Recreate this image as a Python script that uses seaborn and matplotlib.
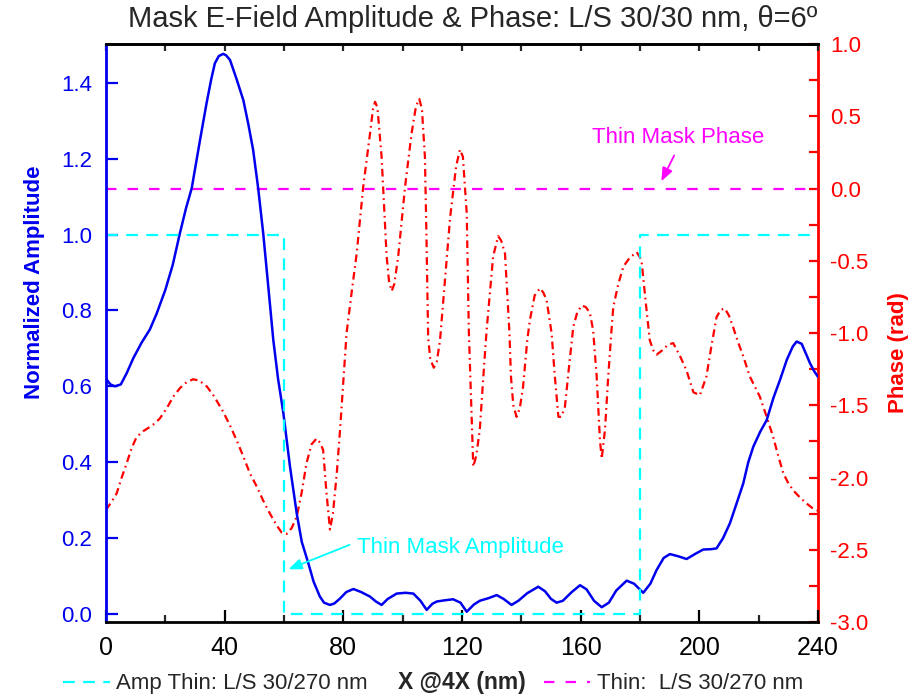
import matplotlib
matplotlib.use("Agg")
import matplotlib.pyplot as plt
from matplotlib import font_manager
from matplotlib.lines import Line2D
from matplotlib.ticker import MultipleLocator
import seaborn as sns
import pandas as pd

# ---- data -------------------------------------------------------------
amp_x = [0, 1.5, 3, 5, 7, 9.2, 12, 14.8, 17.1, 20, 22.5, 24.9, 27, 28.9, 31.7, 33.9,
         35.5, 36.7, 38, 39.5, 40.5, 41.8, 44, 46.3, 48, 49.6, 51.3, 53.0, 54.5, 56.4,
         58, 59.8, 62, 64.3, 66, 68.2, 70, 72.1, 73.5, 75.5, 77, 78.9, 81, 83.4, 86,
         89, 91, 92.9, 95, 98, 101, 103.6, 106, 108.1, 110, 111.5, 114, 117, 119.5,
         121.6, 124, 126, 129, 131.7, 134, 136.7, 139, 142, 145.7, 148, 150, 151.9,
         154, 157, 159.8, 162, 164.5, 167.1, 169.5, 172, 175.5, 178, 181.1, 183.5,
         185.6, 188, 190.1, 193, 195.7, 198.5, 201.3, 204, 205.8, 208, 210.3, 212.5,
         214.8, 216.5, 218.2, 220.5, 222.7, 225, 227.2, 229.5, 231.5, 232.8, 234.5,
         236, 237.3, 238.7, 240]
amp_y = [0.62, 0.605, 0.60, 0.605, 0.635, 0.674, 0.715, 0.75, 0.792, 0.854, 0.92,
         1.003, 1.07, 1.122, 1.249, 1.346, 1.41, 1.451, 1.47, 1.476, 1.472, 1.46,
         1.41, 1.354, 1.29, 1.223, 1.122, 1.003, 0.88, 0.722, 0.62, 0.529, 0.39,
         0.265, 0.19, 0.134, 0.085, 0.046, 0.03, 0.024, 0.028, 0.041, 0.058, 0.066,
         0.058, 0.046, 0.033, 0.024, 0.04, 0.054, 0.056, 0.054, 0.035, 0.011, 0.027,
         0.033, 0.036, 0.039, 0.03, 0.006, 0.025, 0.035, 0.042, 0.05, 0.04, 0.024,
         0.035, 0.055, 0.072, 0.06, 0.04, 0.03, 0.035, 0.058, 0.076, 0.065, 0.035,
         0.018, 0.03, 0.062, 0.088, 0.08, 0.056, 0.08, 0.116, 0.148, 0.158, 0.152,
         0.145, 0.158, 0.170, 0.171, 0.173, 0.2, 0.239, 0.29, 0.344, 0.40, 0.441,
         0.48, 0.511, 0.57, 0.617, 0.67, 0.705, 0.718, 0.712, 0.685, 0.661, 0.64,
         0.625]

phase_x = [0, 1.8, 3.6, 5.3, 7, 8.6, 10.3, 12.5, 14.8, 16.5, 18.2, 20.5, 22.7, 25,
           27.2, 29.4, 31.5, 34, 36.5, 39.5, 41.8, 44, 46.2, 48.5, 51, 53, 55, 57.5,
           59.2, 60.9, 62.6, 64.3, 66, 67.6, 69.3, 71, 72.2, 73.2, 74.3, 75.5, 76.5,
           77.8, 78.9, 80, 81.1, 82.8, 84.5, 86.7, 89, 90, 90.7, 91.5, 92.9, 93.8,
           94.6, 95.4, 96.3, 97.2, 98.5, 100.8, 103, 104.5, 105.6, 106.5, 107.5, 108,
           108.6, 109.3, 110.5, 111.5, 112.6, 114, 116, 118, 119.3, 120.3, 121.6,
           122.3, 122.8, 123.8, 124.8, 126, 127.2, 128.3, 130.5, 132.2, 133.2, 134.5,
           136, 136.5, 137.3, 138.4, 139.5, 140.6, 142, 142.9, 144.5, 146.3, 147.4,
           148.5, 150.2, 151.3, 152.5, 153.5, 154.7, 156, 157.5, 158.8, 160.3, 161.7,
           163.1, 164.2, 165.4, 166.5, 167.1, 168.2, 169.3, 170.4, 171, 172.7, 174.4,
           176.5, 178.9, 180.5, 182, 183.3, 184.5, 185.6, 187.5, 189.5, 191.2, 192.5,
           193.5, 195.7, 198, 200.2, 202.4, 204, 205.8, 207.2, 208.6, 210, 211.4, 213,
           214.8, 217, 220.4, 222.7, 224.9, 226.6, 228.3, 230, 231.7, 234, 236.2, 238,
           240]
phase_y = [-2.225, -2.17, -2.11, -2.0, -1.90, -1.80, -1.72, -1.68, -1.65, -1.625,
           -1.59, -1.52, -1.44, -1.38, -1.34, -1.32, -1.33, -1.37, -1.44, -1.545,
           -1.64, -1.74, -1.85, -1.97, -2.07, -2.16, -2.24, -2.33, -2.38, -2.39,
           -2.35, -2.27, -2.10, -1.90, -1.77, -1.73, -1.76, -1.81, -2.1, -2.36, -2.25,
           -1.97, -1.67, -1.33, -1.0, -0.72, -0.45, 0.01, 0.38, 0.55, 0.60, 0.56,
           0.22, -0.14, -0.47, -0.64, -0.71, -0.66, -0.47, 0.01, 0.38, 0.57, 0.62,
           0.55, 0.22, -0.3, -1.03, -1.18, -1.24, -1.2, -1.05, -0.7, -0.2, 0.15, 0.27,
           0.22, -0.17, -0.98, -1.30, -1.925, -1.85, -1.67, -1.30, -0.98, -0.47,
           -0.33, -0.36, -0.45, -1.0, -1.30, -1.5, -1.58, -1.52, -1.37, -1.05, -0.91,
           -0.74, -0.69, -0.72, -0.77, -1.0, -1.30, -1.58, -1.58, -1.51, -1.25,
           -0.96, -0.86, -0.81, -0.82, -0.86, -0.98, -1.30, -1.74, -1.87, -1.67,
           -1.30, -0.98, -0.82, -0.66, -0.54, -0.48, -0.44, -0.495, -0.8, -1.05,
           -1.12, -1.15, -1.12, -1.08, -1.07, -1.12, -1.16, -1.26, -1.41, -1.43,
           -1.30, -1.1, -0.89, -0.84, -0.83, -0.88, -0.96, -1.06, -1.16, -1.30, -1.44,
           -1.58, -1.72, -1.85, -1.97, -2.04, -2.09, -2.14, -2.18, -2.21, -2.23]

thin_amp_x = [0, 60, 60, 180, 180, 240]
thin_amp_y = [1, 1, 0, 0, 1, 1]
thin_phase_x = [0, 240]
thin_phase_y = [0, 0]

title = "Mask E-Field Amplitude & Phase: L/S 30/30 nm, \u03b8=6\u00ba"
x_ticks = [0, 40, 80, 120, 160, 200, 240]
amp_ticks = [0.0, 0.2, 0.4, 0.6, 0.8, 1.0, 1.2, 1.4]
phase_ticks = [1.0, 0.5, 0.0, -0.5, -1.0, -1.5, -2.0, -2.5, -3.0]


def pick_font(*names):
    for n in names:
        try:
            font_manager.findfont(font_manager.FontProperties(family=n),
                                  fallback_to_default=False)
            return n
        except Exception:
            continue
    return "DejaVu Sans"


sns.set_style("ticks")
REG = pick_font("Liberation Sans", "Arial", "DejaVu Sans")
NAR = pick_font("Liberation Sans Narrow", "Arial Narrow", REG)
plt.rcParams["font.family"] = [REG, "DejaVu Sans"]
plt.rcParams["lines.scale_dashes"] = False

BLUE = "#0000ee"
RED = "#ff0000"
CYAN = "#00ffff"
MAG = "#ff00ff"

fig = plt.figure(figsize=(9.16, 6.95), dpi=100)
ax = fig.add_axes([0.1157, 0.1050, 0.7773, 0.8317])
ax2 = ax.twinx()
ax.set_zorder(ax2.get_zorder() + 1)
ax.patch.set_visible(False)

amp_df = pd.DataFrame({"x": amp_x, "amp": amp_y})
phase_df = pd.DataFrame({"x": phase_x, "phase": phase_y})

# phase curves on the right axis
sns.lineplot(data=phase_df, x="x", y="phase", ax=ax2, color=RED, lw=1.6,
             estimator=None, sort=False, linestyle=(0, (5.5, 3, 1.2, 3)))
sns.lineplot(x=thin_phase_x, y=thin_phase_y, ax=ax2, color=MAG, lw=1.6,
             estimator=None, sort=False, linestyle=(0, (7.5, 8)))

# amplitude curves on the left axis
sns.lineplot(data=amp_df, x="x", y="amp", ax=ax, color=BLUE, lw=1.8,
             estimator=None, sort=False)
sns.lineplot(x=thin_amp_x, y=thin_amp_y, ax=ax, color=CYAN, lw=1.6,
             estimator=None, sort=False, linestyle=(0, (8.5, 6)))

ax.set_xlim(0, 240)
ax.set_ylim(-0.021, 1.502)
ax2.set_ylim(-3.0, 1.0)

# spines
for s in ax.spines.values():
    s.set_linewidth(2)
ax.spines["left"].set_color(BLUE)
ax.spines["right"].set_visible(False)
ax.spines["bottom"].set_color("black")
ax.spines["top"].set_color("black")
for name, s in ax2.spines.items():
    s.set_visible(name == "right")
ax2.spines["right"].set_color(RED)
ax2.spines["right"].set_linewidth(2)

# ticks
ax.set_xticks(x_ticks)
ax.xaxis.set_minor_locator(MultipleLocator(20))
ax.tick_params(axis="x", which="major", direction="in", length=8.5, width=1.6,
               pad=10, labelsize=18, colors="black")
ax.tick_params(axis="x", which="minor", direction="in", length=5, width=1.6)
for lbl in ax.get_xticklabels():
    lbl.set_fontfamily(NAR)

ax.set_yticks(amp_ticks)
ax.set_yticklabels([f"{t:.1f}" for t in amp_ticks])
ax.tick_params(axis="y", which="major", direction="in", length=8.5, width=1.6,
               pad=10, labelsize=16, colors=BLUE)

ax2.set_yticks(phase_ticks)
ax2.set_yticklabels([f"{t:.1f}" for t in phase_ticks])
ax2.yaxis.set_minor_locator(MultipleLocator(0.25))
ax2.tick_params(axis="y", which="both", direction="in", length=6.5, width=1.6,
                pad=9, labelsize=16, colors=RED)

top = ax.secondary_xaxis("top")
top.set_xticks(list(range(0, 241, 20)))
top.tick_params(direction="in", length=5, width=1.6, labeltop=False)
top.spines["top"].set_linewidth(2)

# labels
ax.set_ylabel("Normalized Amplitude", color=BLUE, fontsize=16, fontweight="bold")
ax.yaxis.set_label_coords(-0.0857, 0.588)
ax2.set_ylabel("Phase (rad)", color=RED, fontsize=16, fontweight="bold")
ax2.yaxis.set_label_coords(1.098, 0.467)
ax.set_xlabel("X @4X (nm)", fontsize=16.5, fontweight="bold", family=NAR, labelpad=8)
ax.set_title(title, fontsize=21, pad=12, x=0.515)

# annotations
ax.annotate("Thin Mask Amplitude", xy=(61.5, 0.118), xytext=(84.5, 0.176),
            ha="left", va="center", color=CYAN, fontsize=16,
            arrowprops=dict(arrowstyle="-|>,head_length=0.5,head_width=0.2",
                            color=CYAN, lw=1.3, relpos=(0, 0.75), shrinkA=3, shrinkB=0))
ax2.annotate("Thin Mask Phase", xy=(187.2, 0.05), xytext=(192.7, 0.35),
             ha="center", va="center", color=MAG, fontsize=16,
             arrowprops=dict(arrowstyle="-|>,head_length=0.5,head_width=0.2",
                             color=MAG, lw=1.3, relpos=(0.5, 0), shrinkA=3, shrinkB=0))

# bottom legend entries either side of the axis label
h1 = Line2D([], [], color=CYAN, lw=1.6, linestyle=(0, (8.5, 6)))
h2 = Line2D([], [], color=MAG, lw=1.6, linestyle=(0, (7.5, 8)))
leg1 = fig.legend([h1], ["Amp Thin: L/S 30/270 nm"], loc="center left",
                  bbox_to_anchor=(0.0686, 0.016), frameon=False, handlelength=2.1,
                  handletextpad=0.3, borderaxespad=0, borderpad=0,
                  prop={"family": NAR, "size": 16})
leg2 = fig.legend([h2], ["Thin:  L/S 30/270 nm"], loc="center left",
                  bbox_to_anchor=(0.5935, 0.016), frameon=False, handlelength=2.1,
                  handletextpad=0.3, borderaxespad=0, borderpad=0,
                  prop={"family": NAR, "size": 16})

fig.savefig("out.png", dpi=100)
